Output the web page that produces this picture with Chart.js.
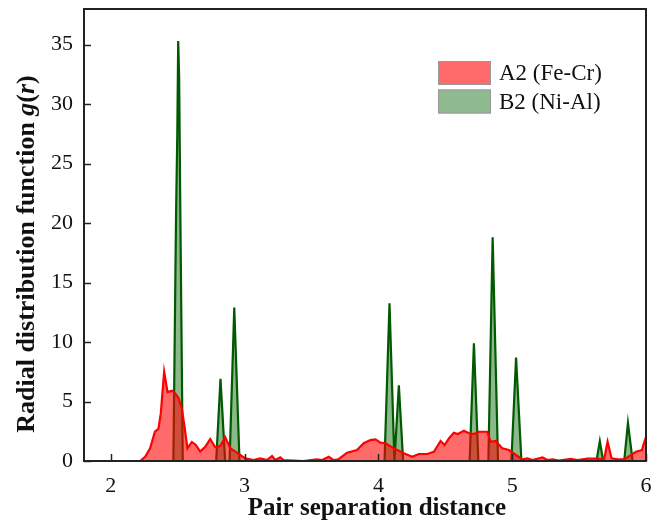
<!DOCTYPE html>
<html>
<head>
<meta charset="utf-8">
<script src="https://cdn.jsdelivr.net/npm/chart.js@4"></script>
<style>
  html, body { margin: 0; padding: 0; background: #fff; }
  #wrap { width: 664px; height: 524px; }
</style>
</head>
<body>
<div id="wrap"><canvas id="myChart" width="664" height="524"></canvas></div>
<script>
// A2 (Fe-Cr) curve
const a2X = [1.8, 2.22, 2.257, 2.294, 2.33, 2.356, 2.374, 2.399, 2.424, 2.457, 2.481, 2.506, 2.531, 2.551, 2.573,
  2.606, 2.636, 2.668, 2.706, 2.743, 2.781, 2.818, 2.855, 2.893, 2.943, 3.005, 3.067, 3.117, 3.168, 3.205, 3.23,
  3.267, 3.29, 3.367, 3.44, 3.54, 3.58, 3.629, 3.666, 3.70, 3.766, 3.84, 3.89, 3.94, 3.978, 4.016, 4.053, 4.115,
  4.19, 4.253, 4.302, 4.365, 4.415, 4.465, 4.495, 4.527, 4.564, 4.594, 4.639, 4.677, 4.714, 4.751, 4.814, 4.839,
  4.876, 4.926, 4.976, 5.039, 5.076, 5.114, 5.151, 5.226, 5.264, 5.30, 5.35, 5.438, 5.488, 5.563, 5.625, 5.687,
  5.713, 5.743, 5.788, 5.837, 5.887, 5.925, 5.97, 5.98, 6.0];
const a2Y = [0, 0, 0.36, 1.07, 2.46, 2.7, 4.0, 7.5, 5.8, 5.9, 5.7, 5.3, 4.4, 2.9, 1.07,
  1.6, 1.35, 0.8, 1.2, 1.85, 1.15, 1.26, 2.0, 1.07, 0.7, 0.22, 0.08, 0.22, 0.08, 0.42, 0.08,
  0.3, 0.08, 0.03, 0, 0.14, 0.08, 0.36, 0.08, 0.14, 0.7, 0.92, 1.5, 1.76, 1.82, 1.54, 1.49, 1.07,
  0.65, 0.36, 0.59, 0.59, 0.78, 1.68, 1.34, 1.9, 2.38, 2.27, 2.55, 2.33, 2.27, 2.46, 2.46, 1.62,
  1.68, 1.07, 0.92, 0.42, 0.14, 0.22, 0.08, 0.3, 0.08, 0.14, 0.03, 0.17, 0.08, 0.2, 0.2, 0.14,
  1.62, 0.22, 0.14, 0.14, 0.5, 0.78, 0.92, 1.34, 2.0];

// B2 (Ni-Al) peaks
const b2X = [1.8, 2.468, 2.488, 2.497, 2.504, 2.511, 2.52, 2.538, 2.788, 2.82, 2.855, 2.888, 2.923, 2.962,
  4.046, 4.083, 4.12, 4.153, 4.185, 4.682, 4.714, 4.747, 4.822, 4.854, 4.894, 4.994, 5.029, 5.069,
  5.63, 5.655, 5.68, 5.837, 5.865, 5.90, 6.0];
const b2Y = [0, 0, 20.8, 27.3, 35.3, 32.3, 20.8, 0, 0, 6.9, 0, 0, 12.9, 0,
  0, 13.25, 0, 6.36, 0, 0, 9.9, 0, 0, 18.8, 0, 0, 8.7, 0,
  0, 1.65, 0, 0, 3.2, 0, 0];

const xTicks = [2, 3, 4, 5, 6];
const yTicks = [0, 5, 10, 15, 20, 25, 30, 35];
const seriesNames = ['A2 (Fe-Cr)', 'B2 (Ni-Al)'];
const xTitle = 'Pair separation distance';

const serif = "'Liberation Serif', 'Times New Roman', serif";

// box, inward ticks, legend and both axis titles (y has italic g(r))
const decor = {
  id: 'decor',
  afterDatasetsDraw(chart) {
    const { ctx, chartArea: a, scales } = chart;
    ctx.save();
    ctx.strokeStyle = '#222';
    ctx.lineWidth = 1.5;
    ctx.beginPath();
    xTicks.forEach(v => {
      const px = Math.round(scales.x.getPixelForValue(v)) + 0.5;
      ctx.moveTo(px, a.bottom);
      ctx.lineTo(px, a.bottom - 7);
    });
    yTicks.forEach(v => {
      const py = Math.round(scales.y.getPixelForValue(v)) + 0.5;
      ctx.moveTo(a.left, py);
      ctx.lineTo(a.left + 7, py);
    });
    ctx.stroke();
    ctx.lineWidth = 2;
    ctx.strokeRect(a.left, a.top, a.right - a.left, a.bottom - a.top);

    // legend
    const lx = a.right - 208, ly = a.top + 52;
    chart.data.datasets.forEach((ds, i) => {
      const y = ly + i * 28.5;
      ctx.fillStyle = ds.legendColor;
      ctx.fillRect(lx, y, 53, 24);
      ctx.strokeStyle = '#999';
      ctx.lineWidth = 1;
      ctx.strokeRect(lx + 0.5, y + 0.5, 52, 23);
      ctx.fillStyle = '#111';
      ctx.font = '23px ' + serif;
      ctx.textBaseline = 'middle';
      ctx.textAlign = 'left';
      ctx.fillText(ds.label, lx + 61, y + 13);
    });

    // x title
    ctx.fillStyle = '#111';
    ctx.font = 'bold 25px ' + serif;
    ctx.textAlign = 'center';
    ctx.textBaseline = 'middle';
    ctx.fillText(xTitle, (a.left + a.right) / 2 + 12, a.bottom + 48);

    // y title
    const parts = [
      ['Radial distribution function ', 'bold 26px ' + serif],
      ['g', 'italic bold 26px ' + serif],
      ['(', 'bold 26px ' + serif],
      ['r', 'italic bold 26px ' + serif],
      [')', 'bold 26px ' + serif]
    ];
    let total = 0;
    parts.forEach(p => { ctx.font = p[1]; total += ctx.measureText(p[0]).width; });
    ctx.translate(27, (a.top + a.bottom) / 2 + 19);
    ctx.rotate(-Math.PI / 2);
    ctx.textBaseline = 'middle';
    ctx.textAlign = 'left';
    let off = -total / 2;
    parts.forEach(p => {
      ctx.font = p[1];
      ctx.fillText(p[0], off, 0);
      off += ctx.measureText(p[0]).width;
    });
    ctx.restore();
  }
};

const ctx = document.getElementById('myChart').getContext('2d');
const myChart = new Chart(ctx, {
  type: 'line',
  data: {
    datasets: [
      {
        label: seriesNames[0],
        data: a2X.map((x, i) => ({ x: x, y: a2Y[i] })),
        borderColor: '#ff0000',
        backgroundColor: 'rgba(255, 0, 0, 0.58)',
        legendColor: '#ff6b6b',
        borderWidth: 2.2,
        pointRadius: 0,
        fill: 'origin',
        tension: 0
      },
      {
        label: seriesNames[1],
        data: b2X.map((x, i) => ({ x: x, y: b2Y[i] })),
        borderColor: '#005a00',
        backgroundColor: 'rgba(0, 100, 0, 0.45)',
        legendColor: '#8fba8f',
        borderWidth: 2.2,
        pointRadius: 0,
        fill: 'origin',
        tension: 0
      }
    ]
  },
  options: {
    responsive: false,
    animation: false,
    layout: { padding: { top: 9, right: 18, left: 0, bottom: 0 } },
    scales: {
      x: {
        type: 'linear',
        min: 1.8,
        max: 6,
        afterFit: s => { s.height = 63; s.paddingLeft = 0; s.paddingRight = 0; },
        afterBuildTicks: s => { s.ticks = xTicks.map(v => ({ value: v })); },
        grid: { display: false, drawTicks: false },
        border: { display: false },
        ticks: {
          padding: 12,
          color: '#111',
          font: { family: serif, size: 22 }
        }
      },
      y: {
        min: 0,
        max: 38,
        afterFit: s => { s.width = 84; s.paddingTop = 0; s.paddingBottom = 0; },
        afterBuildTicks: s => { s.ticks = yTicks.map(v => ({ value: v })); },
        grid: { display: false, drawTicks: false },
        border: { display: false },
        ticks: {
          padding: 11,
          color: '#111',
          font: { family: serif, size: 22 }
        }
      }
    },
    plugins: {
      legend: { display: false },
      tooltip: { enabled: false }
    }
  },
  plugins: [decor]
});
</script>
</body>
</html>
